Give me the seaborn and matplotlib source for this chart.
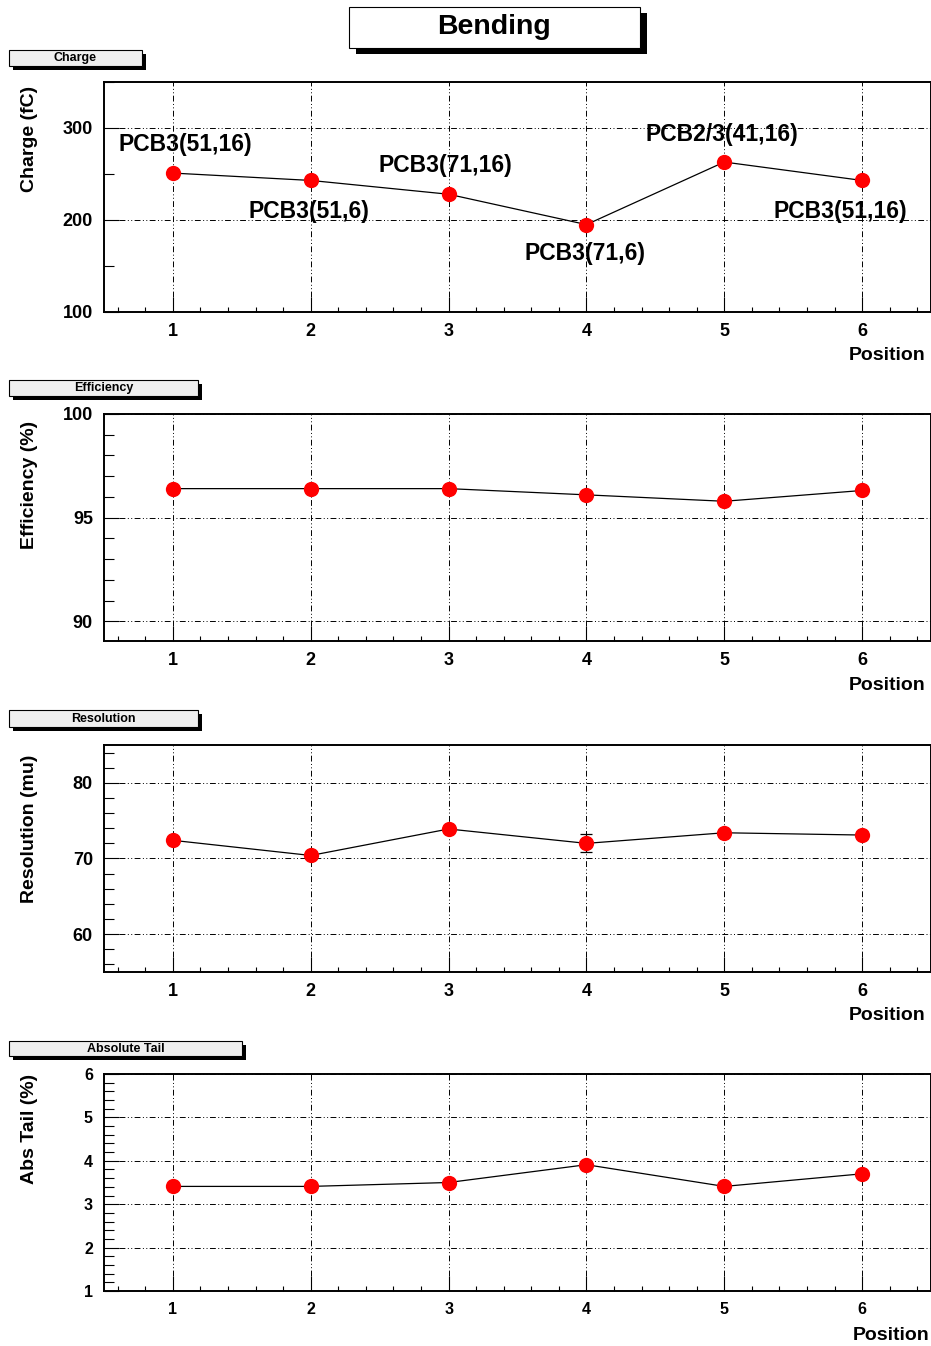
import numpy as np
import pandas as pd
import seaborn as sns
import matplotlib
matplotlib.use("Agg")
import matplotlib.pyplot as plt
from matplotlib.patches import Rectangle
from matplotlib.ticker import MultipleLocator

# ---------------- data ----------------
positions = [1, 2, 3, 4, 5, 6]
charge = [251, 243, 228, 195, 263, 243]
efficiency = [96.40, 96.40, 96.40, 96.10, 95.79, 96.31]
resolution = [72.4, 70.4, 73.9, 72.0, 73.4, 73.1]
resolution_err = [0.0, 0.0, 0.0, 1.2, 0.0, 0.0]
abs_tail = [3.41, 3.41, 3.50, 3.91, 3.41, 3.70]

pcb_labels = ["PCB3(51,16)", "PCB3(51,6)", "PCB3(71,16)", "PCB3(71,6)", "PCB2/3(41,16)", "PCB3(51,16)"]
pcb_label_x = [1.09, 1.99, 2.98, 3.99, 4.98, 5.84]
pcb_label_y = [282, 209.5, 259, 163.5, 292.5, 209.5]

panel_titles = ["Charge", "Efficiency", "Resolution", "Absolute Tail"]
y_labels = ["Charge (fC)", "Efficiency (%)", "Resolution (mu)", "Abs Tail (%)"]
x_label = "Position"
main_title = "Bending"

sns.set_theme(style="white")
plt.rcParams["font.family"] = ["Liberation Sans", "DejaVu Sans"]
plt.rcParams["font.weight"] = "bold"
plt.rcParams["text.color"] = "black"
plt.rcParams["axes.labelcolor"] = "black"
plt.rcParams["xtick.color"] = "black"
plt.rcParams["ytick.color"] = "black"

W, H = 931, 1346
fig = plt.figure(figsize=(W / 100, H / 100), dpi=100)
fig.patch.set_facecolor("white")


def fx(px):
    return px / W


def fy(py):
    return 1 - py / H


def shadow_box(x0, y0, x1, y1, dx, dy, text, fs, face):
    fig.patches.append(Rectangle((fx(x0 + dx), fy(y1 + dy)), fx(x1 - x0), (y1 - y0) / H,
                                 transform=fig.transFigure, facecolor="black",
                                 edgecolor="black", lw=0, zorder=1))
    fig.patches.append(Rectangle((fx(x0), fy(y1)), fx(x1 - x0), (y1 - y0) / H,
                                 transform=fig.transFigure, facecolor=face,
                                 edgecolor="black", lw=0.8, zorder=2))
    fig.text(fx((x0 + x1) / 2), fy((y0 + y1) / 2), text, ha="center", va="center",
             fontsize=fs, fontweight="bold", color="black", zorder=3)


# title
shadow_box(349, 7, 640, 48, 7, 6, main_title, 20.5, "white")

panels = [
    dict(top=82, bot=312, data=charge, ylim=(100, 350), major=100, minor=50,
         box=(9, 50, 142, 66), ylab_top=86, tfs=13),
    dict(top=414, bot=641, data=efficiency, ylim=(89.05, 100), major=5, minor=1,
         box=(9, 380, 198, 396), ylab_top=421, tfs=13),
    dict(top=745, bot=972, data=resolution, ylim=(55, 85), major=10, minor=2,
         box=(9, 710, 198, 727), ylab_top=755, tfs=13),
    dict(top=1074, bot=1291, data=abs_tail, ylim=(1, 6), major=1, minor=0.2,
         box=(9, 1041, 242, 1056), ylab_top=1074, tfs=11.5),
]

grid_ls = (0, (6, 2.5, 1, 2.5, 1, 2.5))

for i, p in enumerate(panels):
    ax = fig.add_axes([fx(104), fy(p["bot"]), fx(931 - 104), (p["bot"] - p["top"]) / H])
    df = pd.DataFrame({"pos": positions, "val": p["data"]})
    sns.lineplot(data=df, x="pos", y="val", ax=ax, color="black", lw=0.9,
                 sort=False, errorbar=None, zorder=3)
    if i == 2:
        ax.errorbar(positions, resolution, yerr=resolution_err, fmt="none",
                    ecolor="black", elinewidth=0.9, capsize=4, capthick=0.9, zorder=3)
    sns.scatterplot(data=df, x="pos", y="val", ax=ax, color="red", edgecolor="red",
                    s=11 ** 2, marker="o", linewidth=0, zorder=4, legend=False)
    ax.set_xlim(0.5, 6.5)
    ax.set_ylim(*p["ylim"])
    ax.xaxis.set_major_locator(MultipleLocator(1))
    ax.xaxis.set_minor_locator(MultipleLocator(0.2))
    ax.yaxis.set_major_locator(MultipleLocator(p["major"]))
    ax.yaxis.set_minor_locator(MultipleLocator(p["minor"]))
    ax.grid(True, which="major", color="black", linestyle=grid_ls, lw=0.7)
    ax.tick_params(axis="both", which="both", direction="in", top=False, right=False,
                   left=True, bottom=True, colors="black", labelcolor="black")
    ax.tick_params(axis="y", which="major", length=11, width=0.8, pad=8,
                   labelsize=p["tfs"])
    ax.tick_params(axis="y", which="minor", length=7, width=0.8)
    ax.tick_params(axis="x", which="major", length=11, width=0.8, pad=8,
                   labelsize=p["tfs"])
    ax.tick_params(axis="x", which="minor", length=3.5, width=0.8)
    for lab in ax.get_xticklabels() + ax.get_yticklabels():
        lab.set_fontweight("bold")
    for s in ax.spines.values():
        s.set_color("black")
        s.set_linewidth(1.4)
        s.set_zorder(5)
    ax.set_xlabel("")
    ax.set_ylabel("")

    fig.text(fx(926 if i < 3 else 930), fy(p["bot"] + 44), x_label, ha="right",
             va="center", fontsize=14, fontweight="bold", color="black")
    fig.text(fx(30), fy(p["ylab_top"]), y_labels[i], rotation=90, ha="center", va="top",
             fontsize=14, fontweight="bold", color="black")
    bx0, by0, bx1, by1 = p["box"]
    shadow_box(bx0, by0, bx1, by1, 4, 4, panel_titles[i], 9, "#efefef")

    if i == 0:
        for lab, lx, ly in zip(pcb_labels, pcb_label_x, pcb_label_y):
            ax.text(lx, ly, lab, ha="center", va="center", fontsize=16.5,
                    fontweight="bold", color="black", zorder=6)

fig.savefig("out.png", dpi=100, facecolor="white")
